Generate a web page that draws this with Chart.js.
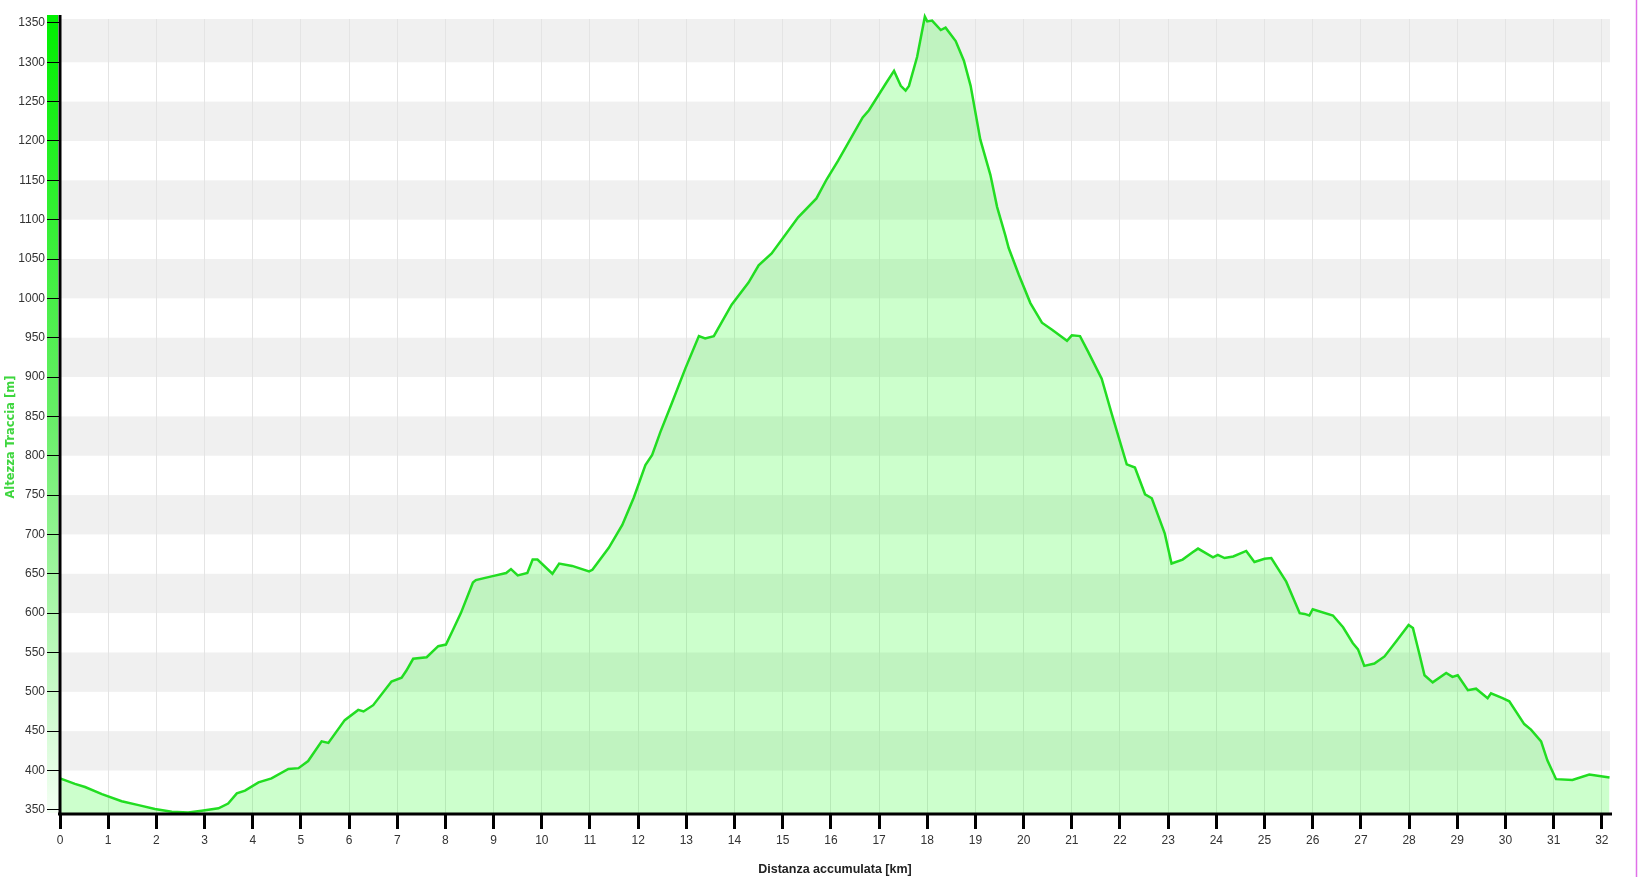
<!DOCTYPE html>
<html>
<head>
<meta charset="utf-8">
<script src="https://cdn.jsdelivr.net/npm/chart.js@4"></script>
<style>
  body { margin: 0; background: #fff; }
  #wrap { width: 1638px; height: 877px; position: relative; }
</style>
</head>
<body>
<div id="wrap"><canvas id="profile"></canvas></div>
<script>
const distKm = [0.00, 0.31, 0.52, 0.87, 1.28, 1.63, 1.97, 2.32, 2.66, 2.94, 3.29, 3.49, 3.67, 3.84, 4.12, 4.39, 4.74, 4.95, 5.15, 5.43,
  5.57, 5.91, 6.19, 6.30, 6.50, 6.88, 7.09, 7.19, 7.33, 7.61, 7.85, 8.01, 8.15, 8.32, 8.57, 8.63, 8.98, 9.26, 9.36, 9.50,
  9.70, 9.81, 9.91, 10.22, 10.36, 10.63, 10.98, 11.05, 11.39, 11.67, 11.91, 12.15, 12.29, 12.46, 12.70, 12.98, 13.26, 13.39, 13.57, 13.94,
  14.29, 14.50, 14.77, 15.32, 15.70, 15.91, 16.15, 16.28, 16.66, 16.79, 17.14, 17.31, 17.45, 17.55, 17.62, 17.79, 17.95, 18.00, 18.10, 18.28,
  18.38, 18.59, 18.76, 18.90, 19.10, 19.31, 19.45, 19.62, 19.69, 19.90, 20.14, 20.38, 20.59, 20.90, 21.00, 21.17, 21.34, 21.62, 21.83, 22.14,
  22.31, 22.52, 22.66, 22.93, 23.07, 23.30, 23.50, 23.62, 23.93, 24.03, 24.17, 24.35, 24.62, 24.79, 25.00, 25.14, 25.45, 25.73, 25.83, 25.93,
  26.00, 26.42, 26.63, 26.83, 26.94, 27.07, 27.28, 27.49, 27.73, 27.99, 28.08, 28.21, 28.32, 28.49, 28.77, 28.90, 29.01, 29.22, 29.39, 29.63,
  29.70, 29.94, 30.08, 30.39, 30.53, 30.74, 30.87, 31.05, 31.39, 31.74, 32.16];
const altM = [390, 383, 379, 370, 361, 356, 351, 347.5, 346.5, 349, 352, 358, 371, 374.5, 385, 390, 402, 403, 412, 437,
  435, 464, 477, 475, 483, 513, 518, 527, 542, 544, 558, 560, 578, 600, 639, 642, 647, 651, 656, 648,
  651, 668, 668, 650, 663, 660, 653, 655, 683, 712, 747, 788, 801, 830, 867, 911, 952, 949, 952, 992,
  1020, 1042, 1057, 1103, 1127, 1151, 1175, 1189, 1230, 1239, 1273, 1289, 1270, 1264, 1270, 1307, 1358, 1352, 1353, 1341,
  1344, 1327, 1302, 1270, 1202, 1157, 1116, 1080, 1064, 1030, 994, 969, 960, 946, 953, 952, 932, 898, 853, 789,
  785, 751, 746, 701, 663, 668, 677, 682, 671, 674, 670, 672, 679, 665, 669, 670, 640, 600, 599, 597,
  605, 597, 582, 562, 554, 533, 536, 545, 564, 585, 581, 549, 521, 512, 524, 519, 521, 502, 504, 492,
  498, 492, 488, 459, 452, 437, 413, 389, 388, 395, 391];
const yTicks = [350, 400, 450, 500, 550, 600, 650, 700, 750, 800, 850, 900, 950, 1000, 1050, 1100, 1150, 1200, 1250, 1300, 1350];
const xTicks = [0, 1, 2, 3, 4, 5, 6, 7, 8, 9, 10, 11, 12, 13, 14, 15, 16, 17, 18, 19, 20, 21, 22, 23, 24, 25, 26, 27, 28, 29, 30, 31, 32];
const yTitle = 'Altezza Traccia [m]';

const points = distKm.map((d, i) => ({ x: d, y: altM[i] }));

const backdrop = {
  id: 'backdrop',
  beforeDraw(chart) {
    const { ctx, chartArea: a, scales: { y } } = chart;
    ctx.save();
    // fasce grigie alternate
    ctx.fillStyle = '#f0f0f0';
    for (let v = 400; v <= 1300; v += 100) {
      const hi = v + 50 >= 1350 ? y.max : v + 50;
      const top = y.getPixelForValue(hi);
      const bot = y.getPixelForValue(v);
      ctx.fillRect(a.left, top, a.right - a.left, bot - top);
    }
    // barra verde della serie
    const g = ctx.createLinearGradient(0, 15, 0, a.bottom);
    g.addColorStop(0, '#00f000');
    g.addColorStop(0.5, '#66ee66');
    g.addColorStop(1, '#f4fff4');
    ctx.fillStyle = g;
    ctx.fillRect(47, 15, 11, a.bottom - 15);
    // bordo destro
    ctx.strokeStyle = '#e070e8';
    ctx.lineWidth = 1.5;
    ctx.beginPath();
    ctx.moveTo(1636.5, 0);
    ctx.lineTo(1636.5, 877);
    ctx.stroke();
    // titolo asse y
    ctx.translate(11, 437);
    ctx.rotate(-Math.PI / 2);
    ctx.fillStyle = '#3ed63e';
    ctx.font = 'bold 11.5px "DejaVu Sans"';
    ctx.textAlign = 'center';
    ctx.textBaseline = 'middle';
    ctx.fillText(yTitle, 0, 0);
    ctx.restore();
  },
  afterDatasetsDraw(chart) {
    const { ctx, chartArea: a } = chart;
    ctx.save();
    ctx.strokeStyle = '#000';
    ctx.lineWidth = 3;
    ctx.beginPath();
    ctx.moveTo(a.left, 15);
    ctx.lineTo(a.left, a.bottom + 2);
    ctx.moveTo(a.left - 2, a.bottom + 1);
    ctx.lineTo(a.right + 2, a.bottom + 1);
    ctx.stroke();
    ctx.restore();
  }
};

new Chart(document.getElementById('profile'), {
  type: 'line',
  data: {
    datasets: [{
      label: yTitle,
      data: points,
      borderColor: '#22dd22',
      borderWidth: 2.5,
      backgroundColor: 'rgba(0, 255, 0, 0.2)',
      fill: 'start',
      pointRadius: 0,
      tension: 0,
      clip: false
    }]
  },
  options: {
    responsive: true,
    maintainAspectRatio: false,
    animation: false,
    events: [],
    layout: { padding: { top: 19, right: 28, left: 0, bottom: 0 } },
    plugins: { legend: { display: false }, tooltip: { enabled: false } },
    scales: {
      x: {
        type: 'linear',
        min: 0,
        max: 32.17,
        afterBuildTicks: s => { s.ticks = xTicks.map(v => ({ value: v })); },
        afterFit: s => { s.height = 64; },
        border: { display: false },
        grid: { color: '#e4e4e4', lineWidth: 1, tickColor: '#000', tickWidth: 3, tickLength: 16 },
        ticks: { color: '#333', padding: 4, maxRotation: 0, autoSkip: false, font: { family: 'Liberation Sans', size: 12 } },
        title: {
          display: true,
          text: 'Distanza accumulata [km]',
          color: '#222',
          padding: 0,
          font: { family: 'Liberation Sans', size: 12.5, weight: 'bold' }
        }
      },
      y: {
        min: 346,
        max: 1355,
        afterBuildTicks: s => { s.ticks = yTicks.map(v => ({ value: v })); },
        afterFit: s => { s.width = 60; },
        border: { display: false },
        grid: { drawOnChartArea: false, tickColor: '#000', tickWidth: 1, tickLength: 13 },
        ticks: { color: '#333', padding: 2, callback: v => String(v), font: { family: 'Liberation Sans', size: 12 } },
        title: { display: false }
      }
    }
  },
  plugins: [backdrop]
});
</script>
</body>
</html>
